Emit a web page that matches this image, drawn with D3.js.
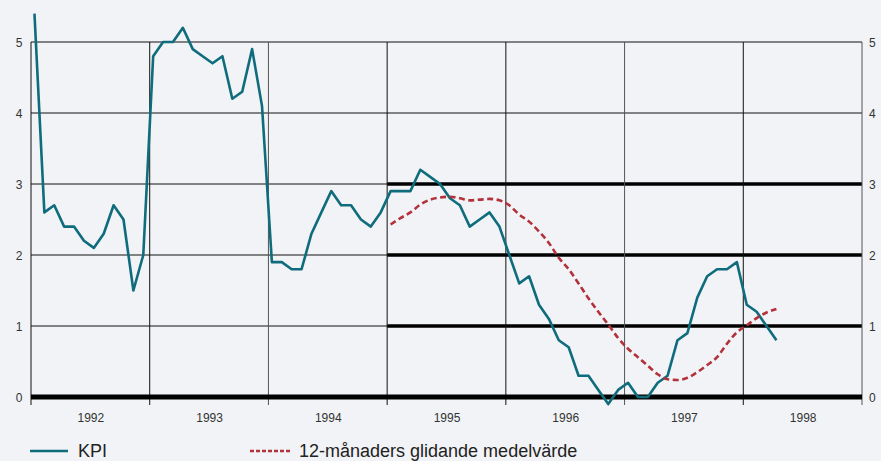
<!DOCTYPE html>
<html>
<head>
<meta charset="utf-8">
<script src="https://cdn.jsdelivr.net/npm/d3@7"></script>
<style>
html,body{margin:0;padding:0;background:#f1f3f6;}
svg{display:block;}
text{font-family:"Liberation Sans","DejaVu Sans",sans-serif;}
</style>
</head>
<body>
<svg id="chart" width="881" height="461"></svg>
<script>
const years = [1992, 1993, 1994, 1995, 1996, 1997, 1998];
const yTicks = [0, 1, 2, 3, 4, 5];
const kpiStart = {year: 1992, month: 0};
const kpi = [
  5.4, 2.6, 2.7, 2.4, 2.4, 2.2, 2.1, 2.3, 2.7, 2.5, 1.5, 2.0,
  4.8, 5.0, 5.0, 5.2, 4.9, 4.8, 4.7, 4.8, 4.2, 4.3, 4.9, 4.1,
  1.9, 1.9, 1.8, 1.8, 2.3, 2.6, 2.9, 2.7, 2.7, 2.5, 2.4, 2.6,
  2.9, 2.9, 2.9, 3.2, 3.1, 3.0, 2.8, 2.7, 2.4, 2.5, 2.6, 2.4,
  2.0, 1.6, 1.7, 1.3, 1.1, 0.8, 0.7, 0.3, 0.3, 0.1, -0.1, 0.1,
  0.2, 0.0, 0.0, 0.2, 0.3, 0.8, 0.9, 1.4, 1.7, 1.8, 1.8, 1.9,
  1.3, 1.2, 1.0, 0.8
];
const maStart = {year: 1995, month: 0};
const movingAvg = [
  2.43, 2.52, 2.60, 2.71, 2.78, 2.81, 2.82, 2.80, 2.77, 2.78, 2.79, 2.77,
  2.70, 2.57, 2.47, 2.33, 2.17, 1.96, 1.80, 1.60, 1.39, 1.20, 1.02, 0.83,
  0.68, 0.56, 0.44, 0.32, 0.25, 0.24, 0.27, 0.35, 0.45, 0.56, 0.75, 0.91,
  1.01, 1.11, 1.19, 1.24
];
const legendLabels = ["KPI", "12-månaders glidande medelvärde"];
const bandStartYear = 1995;
const thickLevels = [1, 2, 3];

const svg = d3.select("#chart");
const L = 31, R = 862, T = 42, B = 397;
const x = d3.scaleLinear().domain([1992, 1999]).range([L, R]);
const y = d3.scaleLinear().domain([0, 5]).range([B, T]);
const teal = "#0f6c7d", red = "#b3313a";

const toPts = (start, arr) => arr.map((v, i) => {
  const m = start.month + i;
  return {t: start.year + (m + 0.35) / 12, v};
});

// horizontal grid lines (thin, full width)
svg.append("g").selectAll("line").data(yTicks.filter(d => d > 0)).join("line")
  .attr("x1", L).attr("x2", R)
  .attr("y1", d => y(d)).attr("y2", d => y(d))
  .attr("stroke", "#111").attr("stroke-width", 1);

// thick lines from 1995 onward
svg.append("g").selectAll("line").data(thickLevels).join("line")
  .attr("x1", x(bandStartYear)).attr("x2", R)
  .attr("y1", d => y(d)).attr("y2", d => y(d))
  .attr("stroke", "#000").attr("stroke-width", 3.5);

// vertical year boundaries
const bounds = years.concat([1999]);
svg.append("g").selectAll("line").data(bounds).join("line")
  .attr("x1", d => x(d)).attr("x2", d => x(d))
  .attr("y1", y(5)).attr("y2", B + 8)
  .attr("stroke", (d, i) => (i % 3 === 2 || i === 7) ? "#555" : "#111")
  .attr("stroke-width", 1);

// zero line
svg.append("line").attr("x1", L).attr("x2", R)
  .attr("y1", y(0)).attr("y2", y(0))
  .attr("stroke", "#000").attr("stroke-width", 5);

// left axis
const yAxisL = d3.axisLeft(y).tickValues(yTicks).tickSize(0).tickPadding(0).tickFormat(d3.format("d"));
svg.append("g").attr("transform", `translate(${L - 12},0)`).call(yAxisL)
  .call(g => g.select(".domain").remove())
  .call(g => g.selectAll("text").attr("font-size", 12).attr("fill", "#333")
    .attr("text-anchor", "middle").attr("dy", "0.35em"));
// right axis
const yAxisR = d3.axisRight(y).tickValues(yTicks).tickSize(0).tickPadding(0).tickFormat(d3.format("d"));
svg.append("g").attr("transform", `translate(${R + 7},0)`).call(yAxisR)
  .call(g => g.select(".domain").remove())
  .call(g => g.selectAll("text").attr("font-size", 12).attr("fill", "#333").attr("dy", "0.35em"));

// bottom year labels
const xAxis = d3.axisBottom(x).tickValues(years.map(d => d + 0.5)).tickSize(0).tickPadding(0)
  .tickFormat((d) => String(Math.floor(d)));
svg.append("g").attr("transform", `translate(0,${B + 16})`).call(xAxis)
  .call(g => g.select(".domain").remove())
  .call(g => g.selectAll("text").attr("font-size", 12).attr("fill", "#333"));

// lines
const line = d3.line().x(d => x(d.t)).y(d => y(d.v));
svg.append("path").datum(toPts(kpiStart, kpi))
  .attr("d", line).attr("fill", "none").attr("stroke", teal)
  .attr("stroke-width", 2.6).attr("stroke-linejoin", "round");
const lineSmooth = d3.line().x(d => x(d.t)).y(d => y(d.v)).curve(d3.curveMonotoneX);
svg.append("path").datum(toPts(maStart, movingAvg))
  .attr("d", lineSmooth).attr("fill", "none").attr("stroke", red)
  .attr("stroke-width", 2.6).attr("stroke-dasharray", "6,3.5");

// legend
const lg = svg.append("g").attr("transform", "translate(0,451)");
lg.append("line").attr("x1", 30).attr("x2", 68).attr("y1", 0).attr("y2", 0)
  .attr("stroke", teal).attr("stroke-width", 2.6);
lg.append("text").attr("x", 78).attr("y", 0).attr("dy", "0.35em")
  .attr("font-size", 18).attr("fill", "#222").text(legendLabels[0]);
lg.append("line").attr("x1", 250).attr("x2", 290).attr("y1", 0).attr("y2", 0)
  .attr("stroke", red).attr("stroke-width", 2.4).attr("stroke-dasharray", "4,2");
lg.append("text").attr("x", 299).attr("y", 0).attr("dy", "0.35em")
  .attr("font-size", 18).attr("fill", "#222").text(legendLabels[1]);
</script>
</body>
</html>
